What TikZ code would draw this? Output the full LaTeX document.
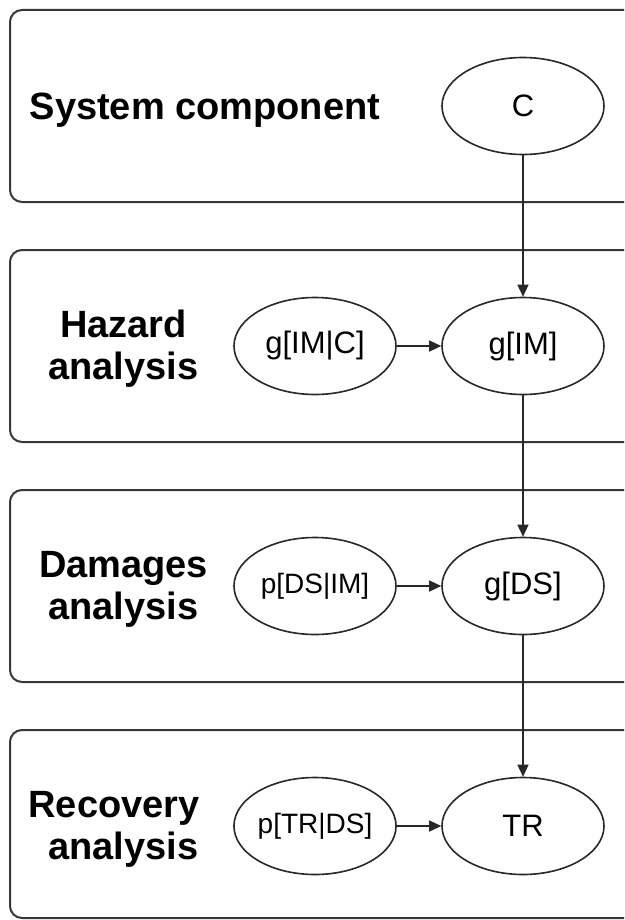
\documentclass[tikz,border=0pt]{standalone}
\usepackage{fontspec}
\setmainfont{Liberation Sans}
\usetikzlibrary{shapes.geometric,arrows.meta}
\definecolor{boxline}{RGB}{55,55,55}
\definecolor{edgeline}{RGB}{40,40,40}
\tikzset{
  stage/.style={draw=boxline, line width=2pt, rounded corners=12pt},
  var/.style={ellipse, draw=edgeline, line width=1.6pt, minimum width=162pt, minimum height=97pt, inner sep=0pt, font=\fontsize{31}{36}\selectfont},
  varsmall/.style={var, font=\fontsize{28}{34}\selectfont},
  lab/.style={align=center, inner sep=0pt, font=\bfseries\fontsize{38}{42}\selectfont},
  flow/.style={draw=edgeline, line width=1.4pt, -{Triangle[length=12pt,width=11pt]}}
}
\begin{document}
\begin{tikzpicture}[x=1pt,y=-1pt]
\useasboundingbox (0,0) rectangle (624,920);
\clip (0,0) rectangle (624,920);
\fill[white] (0,0) rectangle (624,920);
% stage boxes
\draw[stage] (10,10) rectangle (660,202);
\draw[stage] (10,250) rectangle (660,442);
\draw[stage] (10,490) rectangle (660,682);
\draw[stage] (10,730) rectangle (660,918);
% labels
\node[lab, anchor=base] (l1) at (205,119.5) {System component};
\node[lab] (l2) at (123.5,349) {Hazard\\analysis};
\node[lab] (l3) at (123.5,589) {Damages\\analysis};
\node[lab] (l4) at (123.5,829) {Recovery\kern19pt\\analysis};
% variables
\node[var] (c) at (523,106) {C};
\node[var] (gimc) at (315,346) {g[IM|C]};
\node[var] (gim) at (523,346) {g[IM]};
\node[varsmall] (pdsim) at (315,586) {p[DS|IM]};
\node[var] (gds) at (523,586) {g[DS]};
\node[varsmall] (ptrds) at (315,826) {p[TR|DS]};
\node[var] (tr) at (523,826) {TR};
% connectors
\draw[flow] (c) -- (gim);
\draw[flow] (gimc) -- (gim);
\draw[flow] (gim) -- (gds);
\draw[flow] (pdsim) -- (gds);
\draw[flow] (gds) -- (tr);
\draw[flow] (ptrds) -- (tr);
\end{tikzpicture}
\end{document}
